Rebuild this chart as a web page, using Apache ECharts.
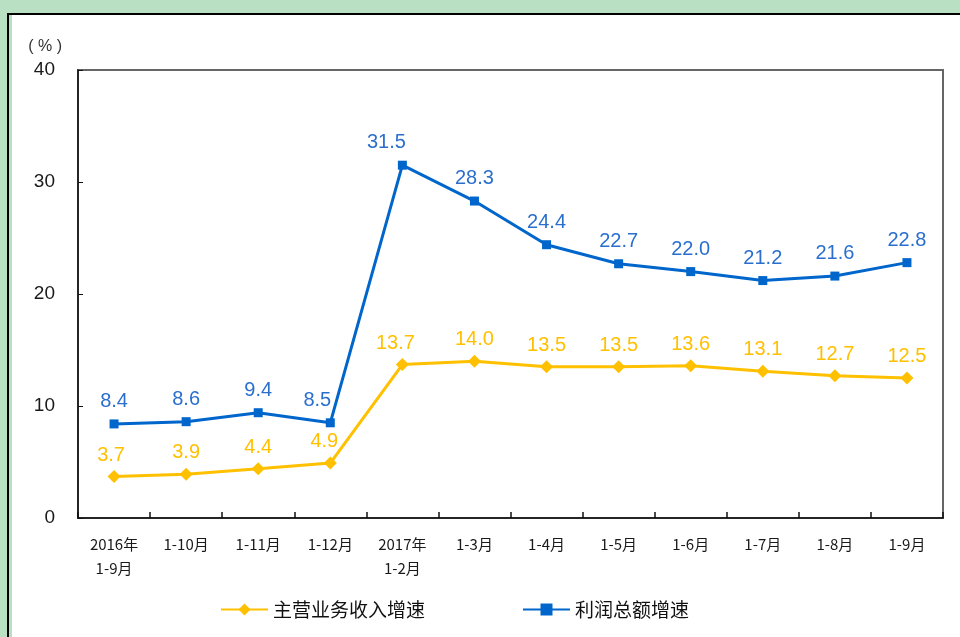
<!DOCTYPE html>
<html>
<head>
<meta charset="utf-8">
<script src="https://cdn.jsdelivr.net/npm/echarts@6/dist/echarts.min.js"></script>
<style>
  html, body { margin: 0; padding: 0; }
  body { width: 960px; height: 637px; background: #b9e0c3; position: relative; overflow: hidden; }
  #panel { position: absolute; left: 7px; top: 13px; right: 0; bottom: 0; border-left: 2px solid #000; border-top: 2px solid #000; background: #b9e0c3; }
  #inner { position: absolute; left: 3px; top: 0; right: 0; bottom: 0; background: #fff; }
  #chart { position: absolute; left: 0; top: 0; width: 960px; height: 637px; }
</style>
</head>
<body>
<div id="panel"><div id="inner"></div></div>
<div id="chart"></div>
<script>
  // categories and values
  const months = ['2016年\n1-9月', '1-10月', '1-11月', '1-12月', '2017年\n1-2月', '1-3月',
                  '1-4月', '1-5月', '1-6月', '1-7月', '1-8月', '1-9月'];
  const revenueGrowth = [3.7, 3.9, 4.4, 4.9, 13.7, 14.0, 13.5, 13.5, 13.6, 13.1, 12.7, 12.5];
  const profitGrowth = [8.4, 8.6, 9.4, 8.5, 31.5, 28.3, 24.4, 22.7, 22.0, 21.2, 21.6, 22.8];
  const yTicks = [0, 10, 20, 30, 40];

  // a few labels sit a little left of their point in the original (x shift, px)
  const revenueLabelShift = { 0: -3, 3: -6, 4: -7 };
  const profitLabelShift = { 3: -13, 4: -16 };

  const yellow = '#FFC000';
  const blue = '#0066CC';
  const textFont = '"Noto Sans CJK SC", "Liberation Sans", sans-serif';
  const numFont = '"Liberation Sans", Arial, sans-serif';

  function withShift(values, shifts) {
    return values.map((v, i) => shifts[i] ? { value: v, label: { offset: [shifts[i], 0] } } : v);
  }

  echarts.init(document.getElementById('chart')).setOption({
    backgroundColor: 'transparent',
    animation: false,
    grid: {
      left: 78, right: 17, top: 70, bottom: 119,
      show: true, borderColor: '#666', borderWidth: 2, backgroundColor: 'transparent'
    },
    legend: {
      bottom: 13,
      left: 215,
      itemGap: 97,
      itemWidth: 47,
      itemHeight: 15,
      textStyle: { fontSize: 19, color: '#111', fontFamily: textFont },
      data: ['主营业务收入增速', '利润总额增速']
    },
    xAxis: {
      type: 'category',
      data: months,
      boundaryGap: true,
      axisLine: { lineStyle: { color: '#111', width: 1.5 } },
      axisTick: { show: true, inside: true, length: 6, lineStyle: { color: '#111', width: 1.5 } },
      axisLabel: {
        interval: 0, margin: 14, fontSize: 15, lineHeight: 24,
        color: '#1a1a1a', fontFamily: textFont
      },
      splitLine: { show: false }
    },
    yAxis: {
      type: 'value',
      min: yTicks[0],
      max: yTicks[yTicks.length - 1],
      interval: yTicks[1] - yTicks[0],
      name: '( % )',
      nameLocation: 'end',
      nameGap: 15,
      nameTextStyle: { fontSize: 16, color: '#333', fontFamily: numFont, align: 'right', padding: [0, 16, 0, 0] },
      axisLine: { show: true, lineStyle: { color: '#111', width: 1.5 } },
      axisTick: { show: true, inside: true, length: 5, lineStyle: { color: '#111' } },
      axisLabel: { fontSize: 19, margin: 23, color: '#1a1a1a', fontFamily: numFont },
      splitLine: { show: false }
    },
    series: [
      {
        name: '主营业务收入增速',
        type: 'line',
        data: withShift(revenueGrowth, revenueLabelShift),
        symbol: 'diamond',
        symbolSize: 13,
        itemStyle: { color: yellow },
        lineStyle: { color: yellow, width: 3 },
        label: {
          show: true, position: 'top', distance: 5,
          fontSize: 20, color: yellow, fontFamily: numFont,
          formatter: p => p.value.toFixed(1)
        }
      },
      {
        name: '利润总额增速',
        type: 'line',
        data: withShift(profitGrowth, profitLabelShift),
        symbol: 'rect',
        symbolSize: 9,
        itemStyle: { color: blue },
        lineStyle: { color: blue, width: 3 },
        label: {
          show: true, position: 'top', distance: 8,
          fontSize: 20, color: '#2a6fce', fontFamily: numFont,
          formatter: p => p.value.toFixed(1)
        }
      }
    ]
  });
</script>
</body>
</html>
